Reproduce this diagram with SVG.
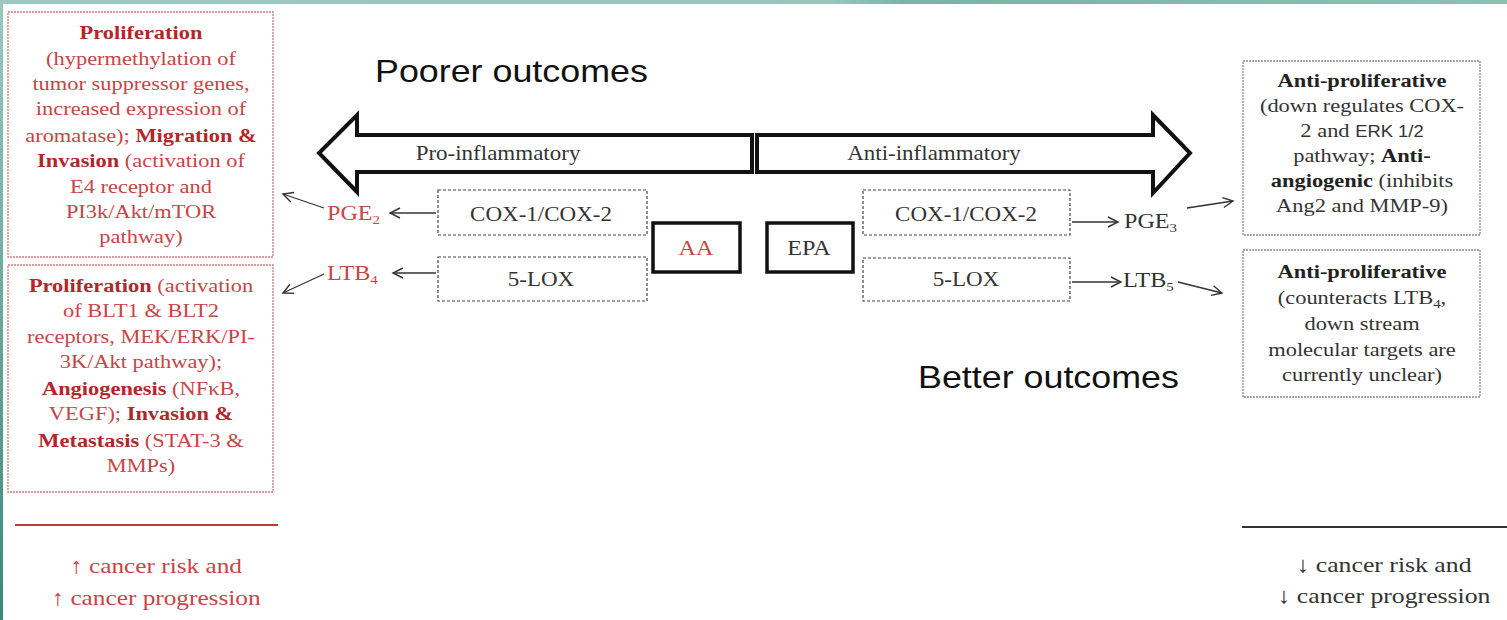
<svg xmlns="http://www.w3.org/2000/svg" width="1507" height="620" viewBox="0 0 1507 620">
<defs>
<linearGradient id="topband" x1="0" y1="0" x2="1" y2="0">
<stop offset="0" stop-color="#9cc8bf"/><stop offset="0.55" stop-color="#9ac5bc"/><stop offset="0.6" stop-color="#7db2a7"/><stop offset="1" stop-color="#8fbfb4"/>
</linearGradient>
<linearGradient id="leftband" x1="0" y1="0" x2="0" y2="1">
<stop offset="0" stop-color="#9cc8bf"/><stop offset="1" stop-color="#3a8878"/>
</linearGradient>
<marker id="open" viewBox="0 0 12 12" refX="11" refY="6" markerWidth="12" markerHeight="12" markerUnits="userSpaceOnUse" orient="auto" overflow="visible">
<path d="M1,1 L11,6 L1,11" fill="none" stroke="#333" stroke-width="1.4"/>
</marker>
<style>
.serif{font-family:"Liberation Serif","Times New Roman",serif;}
.sans{font-family:"Liberation Sans",Arial,sans-serif;}
.red{fill:#c84446;}
.redb{fill:#b3262a;font-weight:bold;}
.dark{fill:#333;}
.darkb{fill:#222;font-weight:bold;}
.box{font-size:19.5px;text-anchor:middle;}
.lbl{font-size:20px;}
.redbox{fill:#fff;stroke:#d07a7c;stroke-width:1.3;stroke-dasharray:2 1;}
.graybox{fill:#fff;stroke:#8a8a8a;stroke-width:1.3;stroke-dasharray:2 1;}
.enz{fill:#fff;stroke:#444;stroke-width:1.2;stroke-dasharray:3 2;}
.thick{fill:#fff;stroke:#111;stroke-width:3.5;}
.big{fill:#fff;stroke:#111;stroke-width:4;stroke-linejoin:miter;}
.conn{fill:none;stroke:#333;stroke-width:1.3;marker-end:url(#open);}
.title{font-size:32px;fill:#111;}
.outc{font-size:22px;text-anchor:middle;}
</style>
</defs>
<rect width="1507" height="620" fill="#fff"/>
<rect x="0" y="0" width="1507" height="4" fill="url(#topband)"/>
<rect x="0" y="0" width="3" height="620" fill="url(#leftband)"/>

<g id="left-pge2-effects">
<rect class="redbox" x="8" y="12" width="265" height="245"/>
<g class="serif box red" transform="translate(141 0) scale(1.15 1)">
<text x="0" y="39"><tspan class="redb">Proliferation</tspan></text>
<text x="0" y="65">(hypermethylation of</text>
<text x="0" y="90">tumor suppressor genes,</text>
<text x="0" y="115">increased expression of</text>
<text x="0" y="142">aromatase); <tspan class="redb">Migration &amp;</tspan></text>
<text x="0" y="167"><tspan class="redb">Invasion</tspan>  (activation of</text>
<text x="0" y="193">E4 receptor and</text>
<text x="0" y="218">PI3k/Akt/mTOR</text>
<text x="0" y="243">pathway)</text>
</g>
</g>

<g id="left-ltb4-effects">
<rect class="redbox" x="8" y="265" width="265" height="227"/>
<g class="serif box red" transform="translate(141 0) scale(1.15 1)">
<text x="0" y="292"><tspan class="redb">Proliferation</tspan>  (activation</text>
<text x="0" y="317">of BLT1  &amp; BLT2</text>
<text x="0" y="343">receptors, MEK/ERK/PI-</text>
<text x="0" y="368">3K/Akt pathway);</text>
<text x="0" y="395"><tspan class="redb">Angiogenesis</tspan> (NFκB,</text>
<text x="0" y="420">VEGF);  <tspan class="redb">Invasion  &amp;</tspan></text>
<text x="0" y="447"><tspan class="redb">Metastasis</tspan> (STAT-3  &amp;</text>
<text x="0" y="472">MMPs)</text>
</g>
</g>

<g id="left-outcome">
<line x1="15" y1="525" x2="278" y2="525" stroke="#c0393b" stroke-width="2"/>
<g class="serif outc red" transform="translate(156 0) scale(1.15 1)">
<text x="0" y="573">↑ cancer risk and</text>
<text x="0" y="605">↑ cancer progression</text>
</g>
</g>

<g id="right-pge3-effects">
<rect class="graybox" x="1243" y="61" width="237" height="174"/>
<g class="serif box dark" transform="translate(1362 0) scale(1.15 1)">
<text x="0" y="87"><tspan class="darkb">Anti-proliferative</tspan></text>
<text x="0" y="112">(down regulates COX-</text>
<text x="0" y="137">2 and  <tspan class="sans" style="font-size:16px">ERK 1/2</tspan></text>
<text x="0" y="162">pathway; <tspan class="darkb">Anti-</tspan></text>
<text x="0" y="187"><tspan class="darkb">angiogenic</tspan> (inhibits</text>
<text x="0" y="212">Ang2 and MMP-9)</text>
</g>
</g>

<g id="right-ltb5-effects">
<rect class="graybox" x="1243" y="250" width="237" height="147"/>
<g class="serif box dark" transform="translate(1362 0) scale(1.15 1)">
<text x="0" y="278"><tspan class="darkb">Anti-proliferative</tspan></text>
<text x="0" y="304">(counteracts LTB<tspan dy="4" style="font-size:13px">4</tspan><tspan dy="-4">,</tspan></text>
<text x="0" y="330">down stream</text>
<text x="0" y="356">molecular  targets are</text>
<text x="0" y="381">currently unclear)</text>
</g>
</g>

<g id="right-outcome">
<line x1="1242" y1="527" x2="1507" y2="527" stroke="#333" stroke-width="2"/>
<g class="serif outc dark" transform="translate(1384 0) scale(1.17 1)">
<text x="0" y="572">↓ cancer risk and</text>
<text x="0" y="603">↓ cancer progression</text>
</g>
</g>

<g id="poorer-outcomes">
<text class="sans title" transform="translate(375 82) scale(1.12 1)">Poorer outcomes</text>
</g>
<g id="better-outcomes">
<text class="sans title" transform="translate(918 388) scale(1.12 1)">Better outcomes</text>
</g>

<g id="pro-inflammatory-arrow">
<polygon class="big" points="752,135 357,135 357,115 319,153 357,192 357,172 752,172"/>
<text class="serif lbl dark" text-anchor="middle" transform="translate(498 160) scale(1.15 1)">Pro-inflammatory</text>
</g>
<g id="anti-inflammatory-arrow">
<polygon class="big" points="757,135 1153,135 1153,115 1190,153 1153,193 1153,172 757,172"/>
<text class="serif lbl dark" text-anchor="middle" transform="translate(934 160) scale(1.15 1)">Anti-inflammatory</text>
</g>

<g id="aa">
<rect class="thick" x="653" y="223" width="87" height="49"/>
<text class="serif red" style="font-size:21px" text-anchor="middle" transform="translate(696 255) scale(1.15 1)">AA</text>
</g>
<g id="epa">
<rect class="thick" x="767" y="223" width="86" height="49"/>
<text class="serif dark" style="font-size:21px" text-anchor="middle" transform="translate(809 255) scale(1.15 1)">EPA</text>
</g>

<g id="cox-left">
<rect class="enz" x="438" y="190" width="209" height="45"/>
<text class="serif lbl dark" text-anchor="middle" transform="translate(541 221) scale(1.15 1)">COX-1/COX-2</text>
</g>
<g id="lox-left">
<rect class="enz" x="438" y="257" width="209" height="44"/>
<text class="serif lbl dark" text-anchor="middle" transform="translate(541 286) scale(1.15 1)">5-LOX</text>
</g>
<g id="cox-right">
<rect class="enz" x="863" y="190" width="207" height="45"/>
<text class="serif lbl dark" text-anchor="middle" transform="translate(966 221) scale(1.15 1)">COX-1/COX-2</text>
</g>
<g id="lox-right">
<rect class="enz" x="863" y="258" width="207" height="43"/>
<text class="serif lbl dark" text-anchor="middle" transform="translate(966 286) scale(1.15 1)">5-LOX</text>
</g>

<g id="pge2">
<text class="serif red" style="font-size:21px" transform="translate(327 220) scale(1.15 1)">PGE<tspan dy="4" style="font-size:13px">2</tspan></text>
</g>
<g id="ltb4">
<text class="serif red" style="font-size:21px" transform="translate(327 280) scale(1.15 1)">LTB<tspan dy="4" style="font-size:13px">4</tspan></text>
</g>
<g id="pge3">
<text class="serif dark" style="font-size:21px" transform="translate(1124 228) scale(1.15 1)">PGE<tspan dy="4" style="font-size:13px">3</tspan></text>
</g>
<g id="ltb5">
<text class="serif dark" style="font-size:21px" transform="translate(1123 287) scale(1.15 1)">LTB<tspan dy="4" style="font-size:13px">5</tspan></text>
</g>

<g id="connectors">
<line class="conn" x1="436" y1="213" x2="390" y2="213"/>
<line class="conn" x1="436" y1="273" x2="393" y2="273"/>
<line class="conn" x1="324" y1="208" x2="283" y2="194"/>
<line class="conn" x1="324" y1="274" x2="283" y2="293"/>
<line class="conn" x1="1072" y1="222" x2="1118" y2="222"/>
<line class="conn" x1="1072" y1="282" x2="1121" y2="282"/>
<line class="conn" x1="1187" y1="208" x2="1233" y2="201"/>
<line class="conn" x1="1178" y1="282" x2="1222" y2="293"/>
</g>
</svg>
